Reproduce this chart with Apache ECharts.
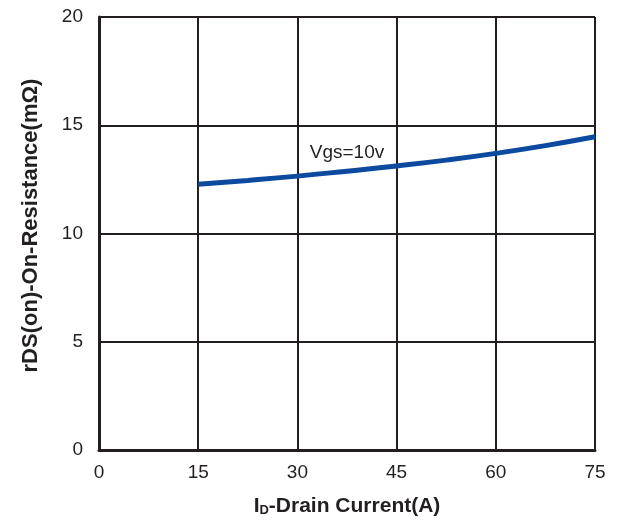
<!DOCTYPE html>
<html><head><meta charset="utf-8">
<script src="https://cdn.jsdelivr.net/npm/echarts@6/dist/echarts.min.js"></script>
<style>html,body{margin:0;padding:0;background:#fff}#c{width:621px;height:523px}</style>
</head><body><div id="c"></div>
<script>
const currentA = [15, 22.5, 30, 37.5, 45, 52.5, 60, 67.5, 75];
const resistance = [12.27, 12.45, 12.65, 12.88, 13.12, 13.39, 13.70, 14.06, 14.47];
const xTicks = [0, 15, 30, 45, 60, 75];
const yTicks = [0, 5, 10, 15, 20];
const seriesLabel = 'Vgs=10v';
const labelPos = [37.5, 13.72];

const chart = echarts.init(document.getElementById('c'));
const gridColor = '#231f20';
const font = 'Liberation Sans';
chart.setOption({
  animation: false,
  grid: {left: 99, right: 26, top: 17, bottom: 73},
  xAxis: {
    type: 'value', min: xTicks[0], max: xTicks[xTicks.length-1], interval: 15,
    axisLine: {show: true, onZero: false, lineStyle: {color: gridColor, width: 3}},
    axisTick: {show: false},
    splitLine: {show: true, lineStyle: {color: gridColor, width: 2}},
    axisLabel: {color: '#231f20', fontSize: 19, fontFamily: font, margin: 13},
    name: '{a|I}{s|D}{a|-Drain Current(A)}', nameLocation: 'middle', nameGap: 46,
    nameTextStyle: {rich: {
      a: {fontSize: 21, fontWeight: 'bold', fontFamily: font, color: '#231f20'},
      s: {fontSize: 13, fontWeight: 'bold', fontFamily: font, color: '#231f20', verticalAlign: 'bottom', padding: [8,0,0,0]}
    }}
  },
  yAxis: {
    type: 'value', min: yTicks[0], max: yTicks[yTicks.length-1], interval: 5,
    axisLine: {show: true, onZero: false, lineStyle: {color: gridColor, width: 3}},
    axisTick: {show: false},
    splitLine: {show: true, lineStyle: {color: gridColor, width: 2}},
    axisLabel: {color: '#231f20', fontSize: 19, fontFamily: font, margin: 16},
    name: 'rDS(on)-On-Resistance(mΩ)', nameLocation: 'middle', nameGap: 57,
    nameTextStyle: {fontSize: 22, fontWeight: 'bold', fontFamily: font, color: '#231f20', padding: [0, 0, 0, 16]}
  },
  series: [{
    type: 'line', smooth: true, showSymbol: false,
    data: currentA.map((x, i) => [x, resistance[i]]),
    lineStyle: {color: '#0b4a9e', width: 5},
    markPoint: {
      symbol: 'circle', symbolSize: 0,
      data: [{coord: labelPos}],
      label: {show: true, formatter: seriesLabel, color: '#231f20', fontSize: 19, fontFamily: font, position: 'inside'}
    }
  }]
});
</script></body></html>
